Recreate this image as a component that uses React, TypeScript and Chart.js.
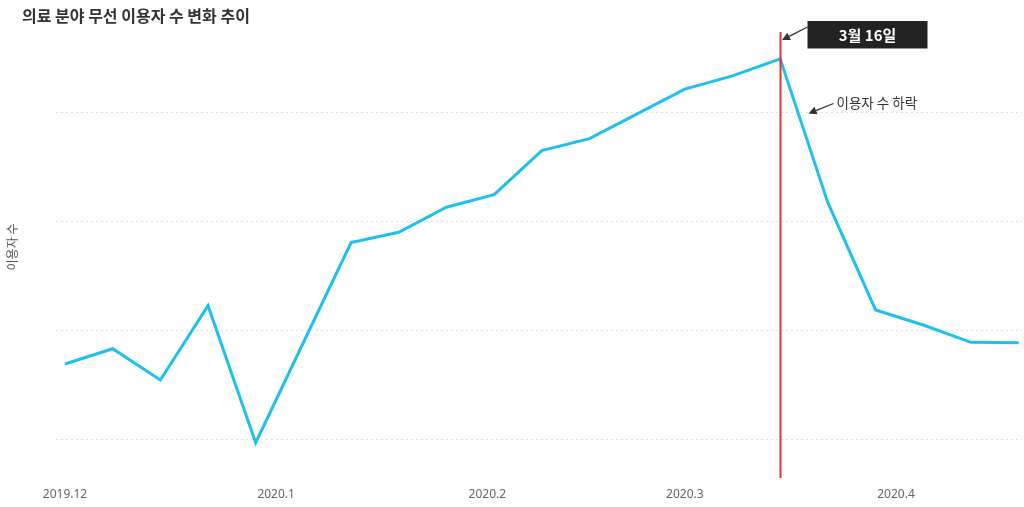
import React, { useEffect, useRef } from "react";
import { Chart, registerables } from "chart.js";

Chart.register(...registerables);

const TITLE = "의료 분야 무선 이용자 수 변화 추이";
const Y_LABEL = "이용자 수";
const weekDays = [0, 7, 14, 21, 28, 35, 42, 49, 56, 63, 70, 77, 84, 91, 98, 105, 112, 119, 126, 133, 140];
const users = [169.2, 183.2, 154.5, 222.7, 96.9, 188.9, 280.6, 290.1, 313.1, 324.7, 365.1, 376.1, 398.8, 421.5, 433.7, 449.3, 317.3, 218.8, 205.0, 189.1, 188.7];
const tickDays = [0, 31, 62, 91, 122];
const tickLabels = ["2019.12", "2020.1", "2020.2", "2020.3", "2020.4"];
const gridValues = [100, 200, 300, 400];
const markerDay = 105;
const markerLabel = "3월 16일";
const dropLabel = "이용자 수 하락";

const KR = "'Noto Sans CJK KR', 'Noto Sans', sans-serif";

function arrow(ctx: CanvasRenderingContext2D, x1: number, y1: number, x2: number, y2: number) {
  const ang = Math.atan2(y2 - y1, x2 - x1);
  const head = 8;
  const w = 4;
  const bx = x2 - Math.cos(ang) * head;
  const by = y2 - Math.sin(ang) * head;
  ctx.save();
  ctx.strokeStyle = "#333";
  ctx.fillStyle = "#333";
  ctx.lineWidth = 1.3;
  ctx.beginPath();
  ctx.moveTo(x1, y1);
  ctx.lineTo(bx, by);
  ctx.stroke();
  ctx.beginPath();
  ctx.moveTo(x2, y2);
  ctx.lineTo(bx + Math.sin(ang) * w, by - Math.cos(ang) * w);
  ctx.lineTo(bx - Math.sin(ang) * w, by + Math.cos(ang) * w);
  ctx.closePath();
  ctx.fill();
  ctx.restore();
}

const overlay = {
  id: "overlay",
  afterDatasetsDraw(chart: any) {
    const ctx: CanvasRenderingContext2D = chart.ctx;
    const { top, bottom } = chart.chartArea;
    const xs = chart.scales.x;
    const rx = Math.round(xs.getPixelForValue(markerDay)) + 0.5;

    ctx.save();
    ctx.strokeStyle = "#e8322e";
    ctx.lineWidth = 2;
    ctx.beginPath();
    ctx.moveTo(rx, top);
    ctx.lineTo(rx, bottom);
    ctx.stroke();

    // title
    ctx.fillStyle = "#333";
    ctx.font = `bold 16px ${KR}`;
    ctx.textAlign = "left";
    ctx.textBaseline = "middle";
    ctx.fillText(TITLE, 22, 16);

    // y label
    ctx.save();
    ctx.translate(12.5, 247);
    ctx.rotate(-Math.PI / 2);
    ctx.fillStyle = "#555";
    ctx.font = `12px ${KR}`;
    ctx.textAlign = "center";
    ctx.textBaseline = "middle";
    ctx.fillText(Y_LABEL, 0, 0);
    ctx.restore();

    // marker box
    const bx = rx + 27;
    ctx.fillStyle = "#222";
    ctx.fillRect(bx, 21, 120, 27.5);
    ctx.fillStyle = "#fff";
    ctx.font = `bold 15px ${KR}`;
    ctx.textAlign = "center";
    ctx.textBaseline = "middle";
    ctx.fillText(markerLabel, bx + 60, 35.5);
    arrow(ctx, bx, 27, rx + 1.5, 40);

    // drop label
    ctx.fillStyle = "#333";
    ctx.font = `13.5px ${KR}`;
    ctx.textAlign = "left";
    ctx.fillText(dropLabel, rx + 56, 103);
    arrow(ctx, rx + 53, 103.5, rx + 28, 113.5);
    ctx.restore();
  },
};

export default function App() {
  const ref = useRef<HTMLCanvasElement>(null);
  useEffect(() => {
    document.body.style.margin = "0";
    const chart = new Chart(ref.current!, {
      type: "line",
      data: {
        datasets: [
          {
            data: weekDays.map((d, i) => ({ x: d, y: users[i] })),
            borderColor: "#1fc0f0",
            borderWidth: 3,
            pointRadius: 0,
            tension: 0,
            fill: false,
          },
        ],
      },
      options: {
        animation: false,
        responsive: true,
        maintainAspectRatio: false,
        layout: { padding: { top: 32, left: 56, right: 2, bottom: 0 } },
        plugins: { legend: { display: false }, tooltip: { enabled: false }, title: { display: false } },
        scales: {
          x: {
            type: "linear",
            min: -1.32,
            max: 140.5,
            afterBuildTicks: (s: any) => {
              s.ticks = tickDays.map((v) => ({ value: v }));
            },
            afterFit: (s: any) => {
              s.height = 29;
            },
            ticks: {
              autoSkip: false,
              maxRotation: 0,
              padding: 9,
              color: "#666",
              font: { family: "'Noto Sans', sans-serif", size: 12 },
              callback: (v: any) => {
                const i = tickDays.indexOf(Number(v));
                return i >= 0 ? tickLabels[i] : "";
              },
            },
            grid: { display: false, drawTicks: false },
            border: { display: false },
          },
          y: {
            type: "linear",
            min: 64.5,
            max: 474,
            afterBuildTicks: (s: any) => {
              s.ticks = gridValues.map((v) => ({ value: v }));
            },
            ticks: { display: false },
            grid: { color: "#e0e0e0", lineWidth: 1, drawTicks: false },
            border: { display: false, dash: [2, 3] },
          },
        },
      },
      plugins: [overlay],
    });
    return () => chart.destroy();
  }, []);
  return (
    <div style={{ width: 1024, height: 507, position: "relative" }}>
      <canvas ref={ref} />
    </div>
  );
}
